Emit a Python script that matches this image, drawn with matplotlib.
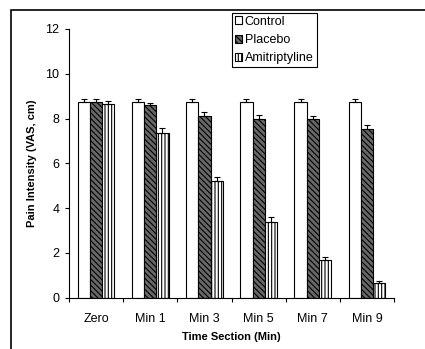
import matplotlib
matplotlib.use('Agg')
import matplotlib.pyplot as plt
from matplotlib.patches import Rectangle
import numpy as np

plt.rcParams['font.family'] = ['Liberation Sans', 'DejaVu Sans']
plt.rcParams['hatch.linewidth'] = 0.8

groups = ['Zero', 'Min 1', 'Min 3', 'Min 5', 'Min 7', 'Min 9']
control = [8.73, 8.73, 8.73, 8.73, 8.73, 8.73]
control_err = [0.13, 0.13, 0.13, 0.13, 0.13, 0.13]
placebo = [8.73, 8.60, 8.12, 7.99, 7.96, 7.54]
placebo_err = [0.13, 0.09, 0.19, 0.15, 0.15, 0.18]
amitrip = [8.64, 7.36, 5.23, 3.37, 1.70, 0.64]
amitrip_err = [0.15, 0.22, 0.15, 0.25, 0.11, 0.12]

fig = plt.figure(figsize=(4.25, 3.49), dpi=100)
ax = fig.add_axes([0.1624, 0.147, 0.7647, 0.770])

x = np.arange(len(groups))
w = 0.225
series = [(control, control_err, 'Control', 'white', None),
          (placebo, placebo_err, 'Placebo', '#686868', '\\\\\\\\\\\\'),
          (amitrip, amitrip_err, 'Amitriptyline', 'white', '|||||')]
for k, (vals, err, lab, fc, h) in enumerate(series):
    ax.bar(x + (k - 1) * w, vals, w, color=fc, edgecolor='black', hatch=h,
           linewidth=0.8, label=lab, zorder=2)
    ax.errorbar(x + (k - 1) * w, vals, yerr=[np.zeros(len(vals)), err],
                fmt='none', ecolor='black', elinewidth=0.8, capsize=2.2,
                capthick=0.8, zorder=3)

ax.set_xlim(-0.5, 5.5)
ax.set_ylim(0, 12)
ax.set_yticks([0, 2, 4, 6, 8, 10, 12])
ax.set_xticks(np.arange(-0.5, 6, 1))
ax.set_xticklabels([])
ax.set_xticks(x, minor=True)
ax.set_xticklabels(groups, minor=True)
ax.tick_params(axis='x', which='minor', length=0, labelsize=9, pad=11)
ax.tick_params(axis='x', which='major', length=3, width=0.8)
ax.tick_params(axis='y', length=3, width=0.8, labelsize=9, pad=4)
for s in ['top', 'right']:
    ax.spines[s].set_visible(False)
for s in ['left', 'bottom']:
    ax.spines[s].set_linewidth(0.8)

ax.set_ylabel('Pain Intensity (VAS, cm)', fontsize=8, fontweight='bold', labelpad=6)
ax.set_xlabel('Time Section (Min)', fontsize=8, fontweight='bold', labelpad=5)

leg = fig.legend(loc='upper left', bbox_to_anchor=(231.7 / 425, 1 - 12.7 / 349),
                 bbox_transform=fig.transFigure, borderaxespad=0, fontsize=9,
                 fancybox=False, edgecolor='black', framealpha=1,
                 handlelength=0.6, handleheight=0.6, handletextpad=0.2,
                 labelspacing=0.5, borderpad=0.25)
leg.get_frame().set_linewidth(0.8)

fig.patches.append(Rectangle((11 / 425, -0.5), 2, 0.5 + 1 - 9.5 / 349,
                             transform=fig.transFigure, fill=False,
                             edgecolor='black', linewidth=1.2))

fig.savefig('out.png', dpi=100)
